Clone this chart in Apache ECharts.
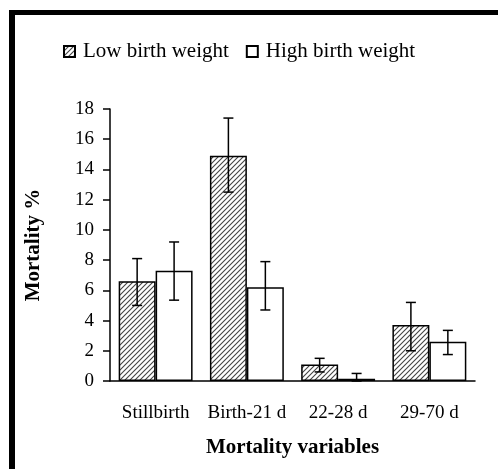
<!DOCTYPE html>
<html>
<head>
<meta charset="utf-8">
<script src="https://cdn.jsdelivr.net/npm/echarts@6/dist/echarts.min.js"></script>
<style>
    html, body { margin: 0; padding: 0; background: #fff; }
    #main { width: 498px; height: 469px; }
</style>
</head>
<body>
<div id="main"></div>
<script>
var categories = ['Stillbirth', 'Birth-21 d', '22-28 d', '29-70 d'];
var lowValues = [6.6, 14.9, 1.1, 3.7];
var highValues = [7.3, 6.2, 0.15, 2.6];
// 误差线 上/下
var lowErrUp = [8.1, 17.4, 1.5, 5.2];
var lowErrDown = [5.0, 12.5, 0.6, 2.0];
var highErrUp = [9.2, 7.9, 0.5, 3.35];
var highErrDown = [5.35, 4.7, 0, 1.75];
var yTicks = [0, 2, 4, 6, 8, 10, 12, 14, 16, 18];

var fontName = '"Liberation Serif", "Times New Roman", serif';

// 斜线填充
function makeHatch() {
    var c = document.createElement('canvas');
    c.width = 5;
    c.height = 5;
    var ctx = c.getContext('2d');
    ctx.fillStyle = '#fff';
    ctx.fillRect(0, 0, 5, 5);
    ctx.strokeStyle = '#444';
    ctx.lineWidth = 1.1;
    ctx.beginPath();
    ctx.moveTo(-1, 6); ctx.lineTo(6, -1);
    ctx.moveTo(-2, 2); ctx.lineTo(2, -2);
    ctx.moveTo(3, 7); ctx.lineTo(7, 3);
    ctx.stroke();
    return c;
}
var hatch = { image: makeHatch(), repeat: 'repeat' };

function errData(up, down) {
    var arr = [];
    for (var i = 0; i < categories.length; i++) {
        arr.push([i, down[i], up[i]]);
    }
    return arr;
}

function errRender(dir) {
    return function (params, api) {
        var i = api.value(0);
        var band = api.size([1, 0])[0];
        var off = band * 0.81 / 4 * dir;
        var lo = api.coord([i, api.value(1)]);
        var hi = api.coord([i, api.value(2)]);
        var x = lo[0] + off;
        var cap = 5;
        var st = { stroke: '#000', lineWidth: 1.5 };
        return {
            type: 'group',
            children: [
                { type: 'line', shape: { x1: x, y1: hi[1], x2: x, y2: lo[1] }, style: st },
                { type: 'line', shape: { x1: x - cap, y1: hi[1], x2: x + cap, y2: hi[1] }, style: st },
                { type: 'line', shape: { x1: x - cap, y1: lo[1], x2: x + cap, y2: lo[1] }, style: st }
            ]
        };
    };
}

var myChart = echarts.init(document.getElementById('main'));

var option = {
    backgroundColor: '#fff',
    animation: false,
    textStyle: { fontFamily: fontName, color: '#000' },
    graphic: [
        { type: 'rect', shape: { x: 9, y: 10, width: 489, height: 5 }, style: { fill: '#000' } },
        { type: 'rect', shape: { x: 9, y: 10, width: 6, height: 459 }, style: { fill: '#000' } }
    ],
    legend: {
        left: 58,
        top: 36,
        itemWidth: 11,
        itemHeight: 11,
        itemGap: 17,
        icon: 'rect',
        textStyle: { fontFamily: fontName, fontSize: 21, color: '#000', padding: [0, 0, 0, 3] },
        data: ['Low birth weight', 'High birth weight']
    },
    grid: {
        left: 110,
        right: 23,
        top: 109,
        bottom: 88
    },
    xAxis: {
        type: 'category',
        data: categories,
        name: 'Mortality variables',
        nameLocation: 'middle',
        nameGap: 56,
        nameTextStyle: { fontFamily: fontName, fontSize: 21, fontWeight: 'bold', color: '#000' },
        axisLine: { lineStyle: { color: '#000', width: 1.5 } },
        axisTick: { length: 7, lineStyle: { color: '#000', width: 1.5 } },
        axisLabel: { fontFamily: fontName, fontSize: 19, color: '#000', margin: 23, interval: 0 }
    },
    yAxis: {
        type: 'value',
        min: yTicks[0],
        max: yTicks[yTicks.length - 1],
        interval: 2,
        name: 'Mortality %',
        nameLocation: 'middle',
        nameGap: 66,
        nameTextStyle: { fontFamily: fontName, fontSize: 21, fontWeight: 'bold', color: '#000' },
        axisLine: { show: true, lineStyle: { color: '#000', width: 1.5 } },
        axisTick: { show: true, length: 7, lineStyle: { color: '#000', width: 1.5 } },
        splitLine: { show: false },
        axisLabel: { fontFamily: fontName, fontSize: 19, color: '#000', margin: 16 }
    },
    series: [
        {
            name: 'Low birth weight',
            type: 'bar',
            data: lowValues,
            barGap: '0%',
            barCategoryGap: '19%',
            itemStyle: { color: hatch, borderColor: '#000', borderWidth: 1.5 }
        },
        {
            name: 'High birth weight',
            type: 'bar',
            data: highValues,
            barGap: '0%',
            barCategoryGap: '19%',
            itemStyle: { color: '#fff', borderColor: '#000', borderWidth: 1.5 }
        },
        {
            type: 'custom',
            renderItem: errRender(-1),
            data: errData(lowErrUp, lowErrDown),
            z: 10,
            silent: true
        },
        {
            type: 'custom',
            renderItem: errRender(1),
            data: errData(highErrUp, highErrDown),
            z: 10,
            silent: true
        }
    ]
};

myChart.setOption(option);
</script>
</body>
</html>
